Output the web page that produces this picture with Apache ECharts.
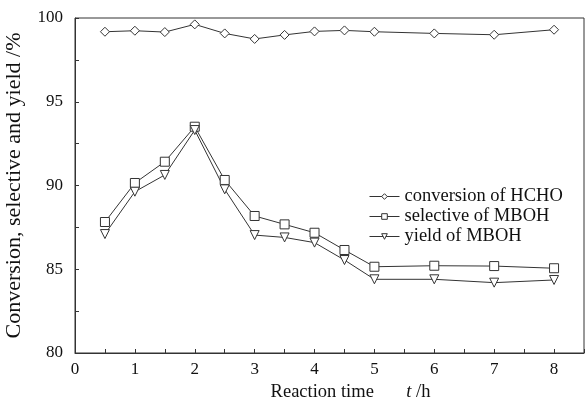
<!DOCTYPE html>
<html><head><meta charset="utf-8">
<script src="https://cdn.jsdelivr.net/npm/echarts@6/dist/echarts.min.js"></script>
<style>html,body{margin:0;padding:0;background:#fff}#c{width:585px;height:399px}</style>
</head><body><div id="c"></div>
<script>
const times = [0.5,1,1.5,2,2.5,3,3.5,4,4.5,5,6,7,8];
const conversion = [99.18,99.24,99.16,99.62,99.08,98.75,98.99,99.2,99.26,99.18,99.08,99.0,99.3];
const selective = [87.82,90.15,91.42,93.51,90.33,88.18,87.68,87.18,86.15,85.15,85.21,85.19,85.06];
const yieldV = [87.1,89.63,90.63,93.31,89.77,87.04,86.9,86.59,85.55,84.4,84.4,84.2,84.36];
const seriesNames = ['conversion of HCHO','selective of MBOH','yield of MBOH'];
const xLabels = ['0','1','2','3','4','5','6','7','8'];
const yLabels = ['80','85','90','95','100'];

const font = 'Liberation Serif';
const chart = echarts.init(document.getElementById('c'), null, {renderer:'canvas'});
function pts(v){ return times.map((t,i)=>[t,v[i]]); }
function mk(name, data, symbol, size, rot){
  return {name, type:'line', data:pts(data), symbol, symbolSize:size, symbolRotate:rot||0,
    lineStyle:{color:'#333',width:1}, itemStyle:{color:'#fff',borderColor:'#333',borderWidth:1},
    emphasis:{disabled:true}, animation:false, z:3};
}
chart.setOption({
  animation:false,
  textStyle:{fontFamily:font},
  grid:{left:75,top:18,right:1,bottom:46,show:true,borderColor:'#333',borderWidth:1,
    containLabel:false,outerBoundsMode:'none'},
  legend:{orient:'vertical',left:364,top:182,itemWidth:30,itemHeight:7,itemGap:1,
    itemStyle:{color:'#fff',borderColor:'#333',borderWidth:1},
    lineStyle:{color:'#333',width:1},
    textStyle:{fontFamily:font,fontSize:18.5,lineHeight:18,color:'#111'},data:seriesNames},
  xAxis:{type:'value',min:0,max:8.5,interval:0.5,
    axisLine:{lineStyle:{color:'#333'}},
    axisTick:{inside:true,length:4,lineStyle:{color:'#333'}},
    splitLine:{show:false},
    axisLabel:{fontFamily:font,fontSize:17,color:'#111',margin:8,
      formatter:v=>{const s=String(v);return xLabels.indexOf(s)>=0?s:'';}},
    name:'Reaction time       {i|t} /h',nameLocation:'middle',nameGap:25,
    nameTextStyle:{fontFamily:font,fontSize:18.5,color:'#111',padding:[0,0,0,42],
      rich:{i:{fontFamily:font,fontSize:18.5,fontStyle:'italic',color:'#111'}}}},
  yAxis:{type:'value',min:80,max:100,interval:2.5,
    axisLine:{show:true,lineStyle:{color:'#333'}},
    axisTick:{show:true,inside:true,length:4,lineStyle:{color:'#333'}},
    splitLine:{show:false},
    axisLabel:{fontFamily:font,fontSize:17,color:'#111',margin:12,
      formatter:v=>{const s=String(v);return yLabels.indexOf(s)>=0?s:'';}},
    name:'Conversion, selective and yield /%',nameLocation:'middle',nameGap:50,
    nameTextStyle:{fontFamily:font,fontSize:22,color:'#111'}},
  series:[
    mk(seriesNames[0],conversion,'diamond',9),
    mk(seriesNames[1],selective,'rect',9),
    mk(seriesNames[2],yieldV,'triangle',9,180)
  ]
});
</script></body></html>
